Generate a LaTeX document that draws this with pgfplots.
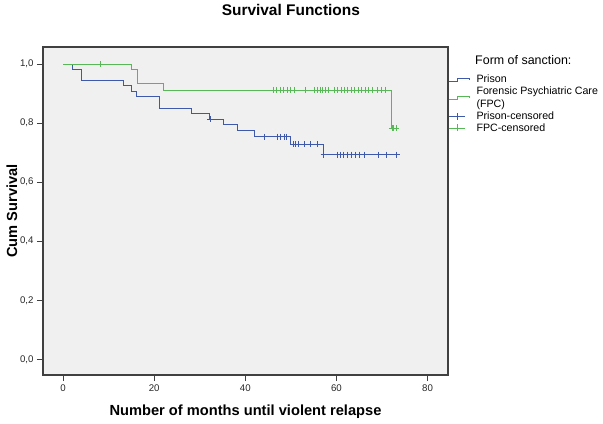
\documentclass[border=0pt]{standalone}
\usepackage{fontspec}
\setmainfont{Liberation Sans}
\usepackage{pgfplots}
\pgfplotsset{compat=1.18}
\definecolor{kmblue}{RGB}{62,88,172}
\definecolor{kmgreen}{RGB}{88,184,88}
\definecolor{plotbg}{RGB}{240,240,240}
\definecolor{axisgray}{RGB}{64,64,64}
\begin{document}
\begin{tikzpicture}[x=1bp,y=1bp]
\path[use as bounding box] (-43,-48) rectangle (560,375);
\begin{axis}[
  at={(0,0)}, anchor=south west,
  scale only axis, width=405bp, height=328bp,
  xmin=-4.4, xmax=84.5, ymin=-0.053, ymax=1.0576,
  axis background/.style={fill=plotbg},
  axis line style={draw=axisgray, line width=1.1bp},
  xtick={0,20,40,60,80}, ytick={0,0.2,0.4,0.6,0.8,1.0},
  tick align=outside, xtick pos=lower, ytick pos=left,
  major tick length=6bp,
  tick style={draw=axisgray, line width=0.9bp},
  ticklabel style={font=\fontsize{9.7}{11}\selectfont, text=black!85},
  /pgf/number format/assume math mode=true,
  yticklabel style={/pgf/number format/.cd, fixed, fixed zerofill, precision=1, use comma},
  xticklabel style={/pgf/number format/.cd, fixed, precision=0},
  xlabel={Number of months until violent relapse},
  ylabel={Cum Survival},
  label style={font=\bfseries\fontsize{14.7}{16}\selectfont},
  xlabel style={at={(axis description cs:0.5,-0.112)}, anchor=center},
  ylabel style={at={(axis description cs:-0.0765,0.5)}, anchor=center},
  legend style={at={(axis description cs:1,0.916)}, anchor=north west, draw=none, fill=none,
    font=\fontsize{10.7}{10}\selectfont, inner sep=0pt, row sep=1.5bp, column sep=6bp,
    nodes={inner sep=0.5pt}},
  legend cell align=left,
  clip=false,
]
% Prison step curve
\addplot[kmblue, line width=0.8bp, const plot, mark=none,
  legend image code/.code={\draw[kmblue, line width=0.8bp] (0bp,-1.7bp) -- (8.3bp,-1.7bp) -- (8.3bp,1.7bp) -- (21bp,1.7bp) -- (21bp,-0.3bp);}]
coordinates {
(0,1.000) (2.0,0.982) (4.0,0.945) (13.2,0.926) (15.0,0.908) (16.2,0.889)
(21.1,0.850) (28.2,0.832) (32.2,0.814) (35.1,0.795) (38.2,0.776) (42.1,0.754)
(49.8,0.729) (57.1,0.693) (73.2,0.693)
};
\addlegendentry{Prison}
% FPC step curve
\addplot[kmgreen, line width=0.8bp, const plot, mark=none,
  legend image code/.code={\draw[kmgreen, line width=0.8bp] (0bp,-1.7bp) -- (8.3bp,-1.7bp) -- (8.3bp,1.7bp) -- (21bp,1.7bp) -- (21bp,-0.3bp);}]
coordinates {
(0,1.000) (15.1,0.982) (16.3,0.935) (22.1,0.912) (72.1,0.782) (73.2,0.782)
};
\addlegendentry{\shortstack[l]{Forensic Psychiatric Care\\(FPC)}}
% Prison censored
\addplot[kmblue, only marks, mark=+, mark size=3bp, mark options={line width=0.8bp},
  legend image code/.code={\draw[kmblue, line width=0.8bp] (0bp,0bp) -- (16.7bp,0bp); \draw[kmblue, line width=0.8bp] (8.3bp,-3.5bp) -- (8.3bp,3.5bp);}]
coordinates {
(32.3,0.814)
(44.1,0.754) (47.1,0.754) (47.8,0.754) (48.5,0.754) (49.1,0.754)
(50.5,0.729) (51.1,0.729) (51.7,0.729) (52.9,0.729) (54.4,0.729) (55.9,0.729)
(57.2,0.693) (60.2,0.693) (60.9,0.693) (61.6,0.693) (62.4,0.693) (63.3,0.693)
(64.2,0.693) (65.1,0.693) (66.2,0.693) (69.2,0.693) (71.0,0.693) (73.2,0.693)
};
\addlegendentry{Prison-censored}
% FPC censored
\addplot[kmgreen, only marks, mark=+, mark size=3bp, mark options={line width=0.8bp},
  legend image code/.code={\draw[kmgreen, line width=0.8bp] (0bp,0bp) -- (16.7bp,0bp); \draw[kmgreen, line width=0.8bp] (8.3bp,-3.5bp) -- (8.3bp,3.5bp);}]
coordinates {
(8.1,1.000)
(46.1,0.912) (46.8,0.912) (47.6,0.912) (48.3,0.912) (49.2,0.912) (50.0,0.912)
(50.7,0.912) (53.1,0.912) (55.1,0.912) (55.8,0.912) (56.4,0.912) (56.9,0.912)
(57.5,0.912) (58.2,0.912) (59.5,0.912) (60.2,0.912) (61.0,0.912) (61.7,0.912)
(62.5,0.912) (63.2,0.912) (63.9,0.912) (64.8,0.912) (65.5,0.912) (66.3,0.912)
(67.0,0.912) (67.8,0.912) (69.0,0.912) (69.9,0.912) (70.8,0.912)
(72.2,0.782) (72.6,0.782) (73.1,0.782)
};
\addlegendentry{FPC-censored}
\node[anchor=west, font=\fontsize{12.5}{14}\selectfont, inner sep=0pt] at (axis description cs:1.0667,0.9604) {Form of sanction:};
\node[anchor=center, font=\bfseries\fontsize{15.5}{17}\selectfont, inner sep=0pt] at (axis description cs:0.612,1.112) {Survival Functions};
\end{axis}
\end{tikzpicture}
\end{document}
